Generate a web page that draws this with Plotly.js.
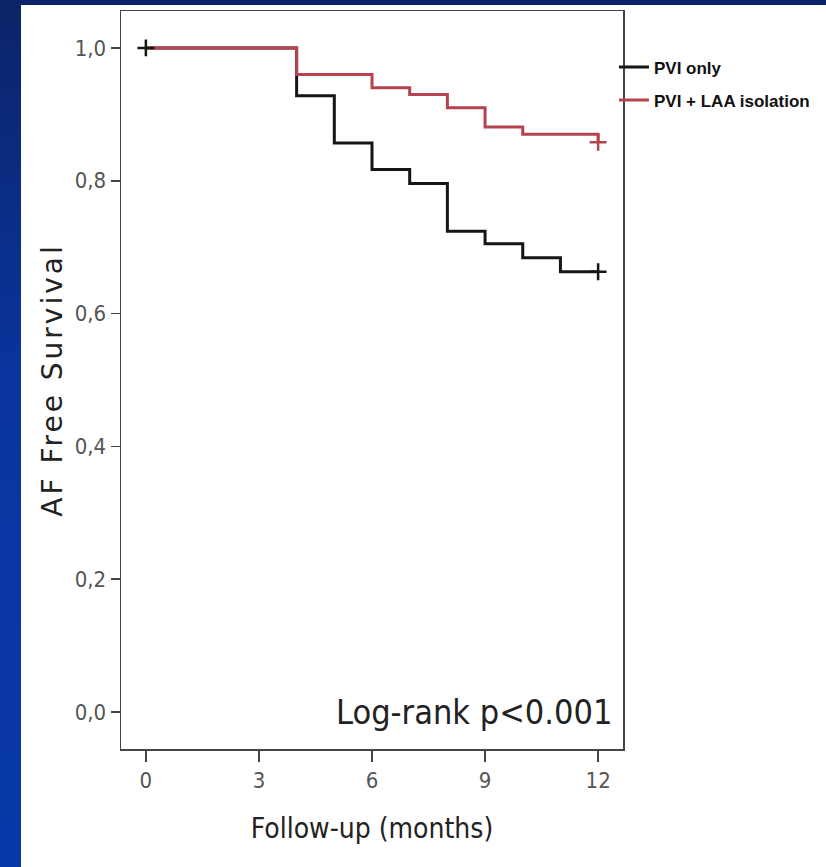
<!DOCTYPE html>
<html>
<head>
<meta charset="utf-8">
<script src="https://cdn.plot.ly/plotly-3.0.1.min.js"></script>
<style>
  html, body { margin: 0; padding: 0; width: 826px; height: 867px; overflow: hidden;
    background: linear-gradient(to bottom, #0b2468 0%, #0a35a0 45%, #0838a8 100%); }
  #chart { position: absolute; left: 21px; top: 5px; width: 805px; height: 862px; background: #ffffff; }
  #chart .ytitle { letter-spacing: 3px; }
</style>
</head>
<body>
<div id="chart"></div>
<script>
// Kaplan-Meier steps (months, survival)
const pviMonths     = [0, 4, 5, 6, 7, 8, 9, 10, 11, 12];
const pviSurvival   = [1.0, 0.928, 0.857, 0.817, 0.796, 0.724, 0.705, 0.684, 0.663, 0.663];
const laaMonths     = [0, 4, 6, 7, 8, 9, 10, 12];
const laaSurvival   = [1.0, 0.960, 0.940, 0.930, 0.910, 0.881, 0.870, 0.858];
// censored marks
const pviCensorX = [0, 12];
const pviCensorY = [1.0, 0.663];
const laaCensorX = [12];
const laaCensorY = [0.858];
const seriesNames = ['PVI only', 'PVI + LAA isolation'];
const xTicks = [0, 3, 6, 9, 12];
const yTicks = [0, 0.2, 0.4, 0.6, 0.8, 1.0];

const black = '#151515';
const red = '#b4434d';

const traces = [
  { x: pviMonths, y: pviSurvival, mode: 'lines', line: { shape: 'hv', color: black, width: 3 },
    name: seriesNames[0], legendgroup: 'a' },
  { x: laaMonths, y: laaSurvival, mode: 'lines', line: { shape: 'hv', color: red, width: 3 },
    name: seriesNames[1], legendgroup: 'b' },
  { x: laaCensorX, y: laaCensorY, mode: 'markers', showlegend: false,
    marker: { symbol: 'cross-thin', size: 12, line: { color: red, width: 2.5 } } },
  { x: pviCensorX, y: pviCensorY, mode: 'markers', showlegend: false,
    marker: { symbol: 'cross-thin', size: 12, line: { color: black, width: 2.5 } } }
];

const layout = {
  width: 805, height: 862,
  margin: { l: 100, r: 203, t: 6, b: 118 },
  paper_bgcolor: '#ffffff', plot_bgcolor: '#ffffff',
  separators: ',.',
  showlegend: true,
  legend: {
    x: 0.982, xanchor: 'left', y: 0.948, yanchor: 'top',
    bgcolor: 'rgba(0,0,0,0)', traceorder: 'grouped', tracegroupgap: 8,
    font: { family: 'Liberation Sans Narrow, Arial Narrow, Liberation Sans, Arial', size: 17, color: '#111', weight: 'bold' }
  },
  xaxis: {
    range: [-0.66, 12.66], tickvals: xTicks, showgrid: false, zeroline: false,
    showline: true, mirror: true, linecolor: '#444', linewidth: 1.5,
    ticks: 'outside', ticklen: 11, tickwidth: 1.5, tickcolor: '#444',
    tickfont: { family: 'DejaVu Sans Condensed, DejaVu Sans', size: 22, color: '#555' },
    title: { text: 'Follow-up (months)', standoff: 26,
      font: { family: 'DejaVu Sans Condensed, DejaVu Sans', size: 28, color: '#222' } }
  },
  yaxis: {
    range: [-0.0556, 1.0556], tickvals: yTicks, tickformat: '.1f', showgrid: false, zeroline: false,
    showline: true, mirror: true, linecolor: '#444', linewidth: 1.5,
    ticks: 'outside', ticklen: 9, tickwidth: 1.5, tickcolor: '#444',
    tickfont: { family: 'DejaVu Sans Condensed, DejaVu Sans', size: 22, color: '#555' },
    title: { text: 'AF Free Survival', standoff: 4,
      font: { family: 'DejaVu Sans, Verdana', size: 28, color: '#222' } }
  },
  annotations: [{
    x: 12.42, y: 0.0, xref: 'x', yref: 'y', xanchor: 'right', yanchor: 'middle',
    text: 'Log-rank p<0.001', showarrow: false,
    font: { family: 'DejaVu Sans Condensed, DejaVu Sans', size: 34, color: '#222' }
  }]
};

Plotly.newPlot('chart', traces, layout, { displayModeBar: false, staticPlot: true });
</script>
</body>
</html>
